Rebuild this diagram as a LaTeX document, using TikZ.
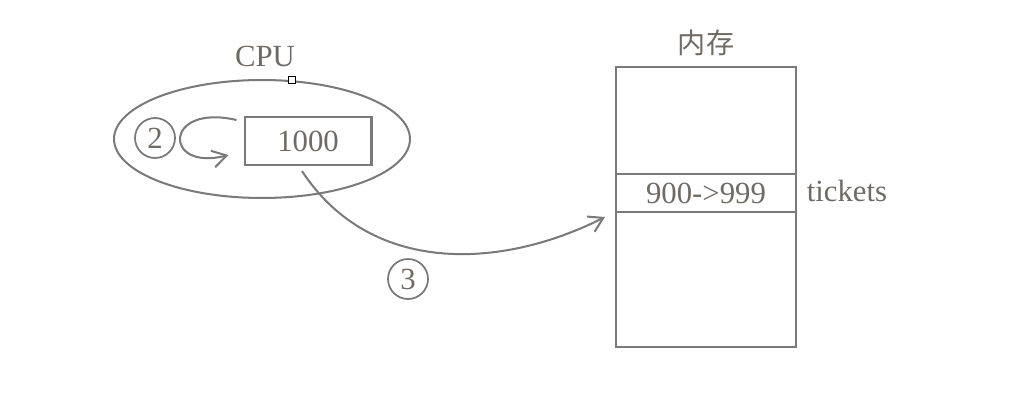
\documentclass[tikz,border=0pt]{standalone}
\usepackage{fontspec}
\setmainfont{Liberation Serif}
\newfontfamily\cjk{Noto Sans CJK SC}
\usetikzlibrary{arrows.meta,positioning,shapes.geometric}
\definecolor{linegray}{RGB}{122,122,122}
\definecolor{inkgray}{RGB}{112,106,100}

\begin{document}
\begin{tikzpicture}[
    x=0.02cm,y=-0.02cm,
    line width=1.15pt,
    txt/.style={text=inkgray,font=\fontsize{17.5}{20}\selectfont},
    cell/.style={draw=linegray,line width=1.15pt,minimum width=3.6cm,outer sep=0pt,inner sep=0pt},
    num/.style={circle,draw=linegray,line width=1pt,minimum size=0.8cm,inner sep=0pt,txt},
    arrow/.style={-{Straight Barb[length=2.8mm,width=3.4mm]},draw=linegray,line width=1.15pt}
  ]
    \useasboundingbox (0,0) rectangle (1035,409);
    % CPU
    \node[ellipse,draw=linegray,minimum width=5.92cm,minimum height=2.36cm] (cpu) at (262,139) {};
    \node[txt] (cpulabel) at (265,56) {CPU};
    \node[draw=black,fill=white,line width=0.5pt,minimum size=0.13cm,inner sep=0pt] (handle) at (292,80) {};
    \node[draw=linegray,minimum width=2.54cm,minimum height=0.96cm,inner sep=0pt,txt] (val) at (308,141) {1000};
    \node[num] (two) at (155,138) {2};
    \draw[arrow] ([xshift=-0.14cm,yshift=-0.08cm]val.north west)
      .. controls (163,103) and (163,172) .. ([xshift=-0.3cm,yshift=0.22cm]val.south west);
    % memory
    \node[cell,minimum height=2.14cm] (memtop) at (706,120.5) {};
    \node[cell,minimum height=0.76cm,below=0pt of memtop,txt] (slot) {900->999};
    \node[cell,minimum height=2.7cm,below=0pt of slot] (membot) {};
    \node[txt,font=\cjk\fontsize{16}{18}\selectfont,above=0.08cm of memtop] (memlabel) {内存};
    \node[txt,right=0.08cm of slot,yshift=0.04cm] (tickets) {tickets};
    % write back
    \draw[arrow] ([xshift=-0.12cm,yshift=-0.1cm]val.south)
      .. controls (370,275) and (500,270) .. ([xshift=-0.22cm,yshift=-0.1cm]membot.north west);
    \node[num] (three) at (408,279) {3};
\end{tikzpicture}
\end{document}
